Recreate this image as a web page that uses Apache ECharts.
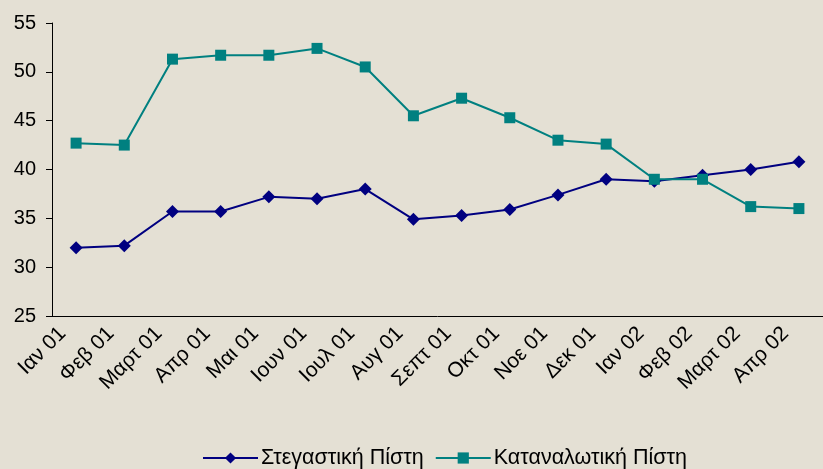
<!DOCTYPE html>
<html>
<head>
    <meta charset="utf-8">
    <title>ECharts</title>
    <script src="https://cdn.jsdelivr.net/npm/echarts@6/dist/echarts.min.js"></script>
    <style>
        html, body { margin: 0; padding: 0; background: #e4e0d4; }
        #main { width: 823px; height: 469px; }
    </style>
</head>
<body>
    <div id="main"></div>
    <script>
        // μήνες
        var months = ['Ιαν 01', 'Φεβ 01', 'Μαρτ 01', 'Απρ 01', 'Μαι 01', 'Ιουν 01', 'Ιουλ 01', 'Αυγ 01',
            'Σεπτ 01', 'Οκτ 01', 'Νοε 01', 'Δεκ 01', 'Ιαν 02', 'Φεβ 02', 'Μαρτ 02', 'Απρ 02'];
        var housing = [32.0, 32.2, 35.7, 35.7, 37.2, 37.0, 38.0, 34.9, 35.3, 35.9, 37.4, 39.0, 38.8, 39.4, 40.0, 40.8];
        var consumer = [42.7, 42.5, 51.3, 51.7, 51.7, 52.4, 50.5, 45.5, 47.3, 45.3, 43.0, 42.6, 39.0, 39.0, 36.2, 36.0];

        var myChart = echarts.init(document.getElementById('main'));
        var option = {
            backgroundColor: '#e4e0d4',
            textStyle: { fontFamily: 'Liberation Sans, Arial, sans-serif' },
            grid: { left: 52, top: 23, width: 776, height: 293 },
            legend: {
                top: 442,
                left: 197,
                itemWidth: 55,
                itemHeight: 14,
                itemGap: 11,
                textStyle: { fontSize: 21.5, color: '#000', padding: [0, 0, 0, -2] },
                data: ['Στεγαστική Πίστη', 'Καταναλωτική Πίστη']
            },
            xAxis: {
                type: 'category',
                data: months,
                boundaryGap: true,
                axisLine: { lineStyle: { color: '#000' } },
                axisTick: { length: 6, lineStyle: { color: '#000' } },
                axisLabel: { rotate: 45, fontSize: 21, color: '#000', margin: 1, interval: 0, padding: [0, 19, 0, 0] }
            },
            yAxis: {
                type: 'value',
                min: 25,
                max: 55,
                interval: 5,
                axisLine: { show: true, lineStyle: { color: '#000' } },
                axisTick: { show: true, length: 6, lineStyle: { color: '#000' } },
                axisLabel: { fontSize: 20, color: '#000', margin: 16 },
                splitLine: { show: false }
            },
            series: [
                {
                    name: 'Στεγαστική Πίστη',
                    type: 'line',
                    data: housing,
                    color: '#000080',
                    symbol: 'diamond',
                    symbolSize: 13,
                    lineStyle: { width: 2 }
                },
                {
                    name: 'Καταναλωτική Πίστη',
                    type: 'line',
                    data: consumer,
                    color: '#008080',
                    symbol: 'rect',
                    symbolSize: 11,
                    lineStyle: { width: 2 }
                }
            ]
        };
        myChart.setOption(option);
    </script>
</body>
</html>
